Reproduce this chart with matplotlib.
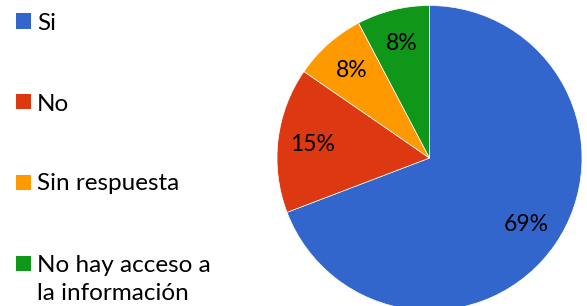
import matplotlib
matplotlib.use("Agg")
import matplotlib.pyplot as plt
from matplotlib.patches import Rectangle

# respuestas (porcentaje)
labels = ["Si", "No", "Sin respuesta", "No hay acceso a\nla información"]
values = [69.2, 15.4, 7.7, 7.7]
colors = ["#3366CC", "#DC3912", "#FF9900", "#109618"]

plt.rcParams["font.family"] = ["Lato", "DejaVu Sans"]

W, H = 587, 306
fig = plt.figure(figsize=(W / 100, H / 100), dpi=100)

# pie axes: center (429.5, 158) px, radius 152.5 px
cx, cy, r = 429.5, 158, 152.5
ax = fig.add_axes([(cx - r) / W, (H - cy - r) / H, 2 * r / W, 2 * r / H])
wedges, texts, autotexts = ax.pie(
    values,
    colors=colors,
    startangle=90,
    counterclock=False,
    autopct="%.0f%%",
    pctdistance=0.77,
    wedgeprops=dict(edgecolor="white", linewidth=0.5),
    textprops=dict(fontsize=16.5, color="black"),
)
ax.set_xlim(-1, 1)
ax.set_ylim(-1, 1)
ax.set_aspect("equal")
ax.axis("off")

# manual legend on the left (square centre y, text baseline y in px)
rows_y = [21, 102, 182, 263]
line_h = 29
for w, lab, y in zip(wedges, labels, rows_y):
    fig.patches.append(Rectangle((16 / W, (H - y - 7.5) / H), 15 / W, 15 / H,
                                 transform=fig.transFigure,
                                 facecolor=w.get_facecolor(), edgecolor="none"))
    for i, line in enumerate(lab.split("\n")):
        base = y + 8.5 + i * line_h
        fig.text(37 / W, (H - base) / H, line, fontsize=17.5,
                 va="baseline", ha="left")

fig.savefig("out.png", dpi=100)
